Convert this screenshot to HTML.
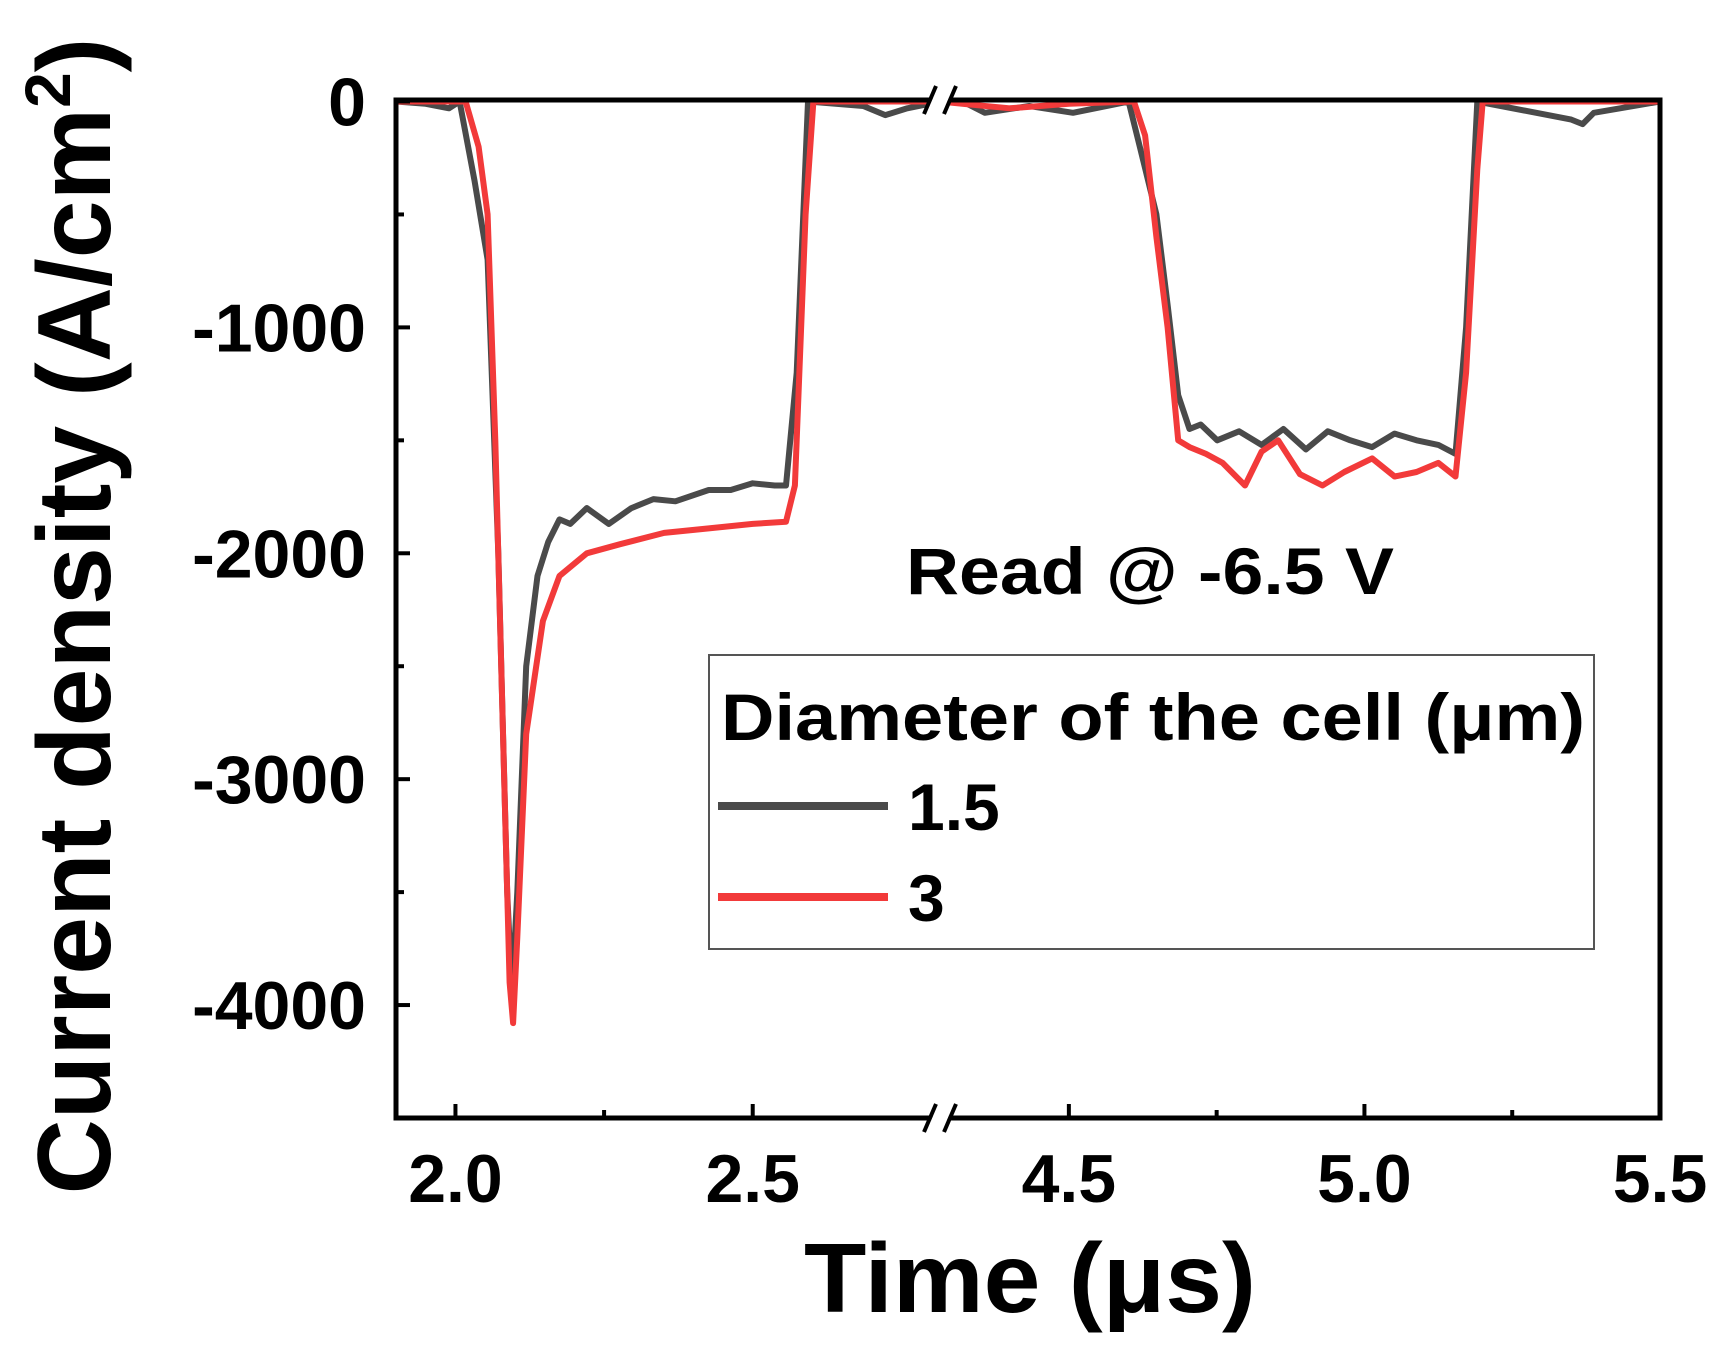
<!DOCTYPE html>
<html><head><meta charset="utf-8"><style>
html,body{margin:0;padding:0;background:#fff;}
svg text{font-family:"Liberation Sans",sans-serif;font-weight:bold;}
</style></head><body>
<svg id="chart" width="1731" height="1364" viewBox="0 0 1731 1364" xmlns="http://www.w3.org/2000/svg">
<g id="plot"></g>
<g id="axes"></g>
<text x="906" y="594" font-size="66" textLength="488" lengthAdjust="spacingAndGlyphs">Read @ -6.5 V</text>
<g>
<rect x="709" y="655" width="885" height="294" fill="#fff" stroke="#555" stroke-width="2"/>
<text x="721" y="740" font-size="66" textLength="864" lengthAdjust="spacingAndGlyphs">Diameter of the cell (μm)</text>
<line x1="718" y1="806" x2="888" y2="806" stroke="#4a4a4a" stroke-width="8"/>
<text x="908" y="830" font-size="66">1.5</text>
<line x1="718" y1="897" x2="888" y2="897" stroke="#f23a3a" stroke-width="8"/>
<text x="908" y="921" font-size="66">3</text>
</g>
<text x="1030" y="1312" font-size="98" text-anchor="middle" textLength="452" lengthAdjust="spacingAndGlyphs">Time (μs)</text>
<text transform="translate(110,616) rotate(-90)" font-size="104" text-anchor="middle">Current density (A/cm<tspan font-size="64" dy="-40">2</tspan><tspan dy="40">)</tspan></text>
</svg>
<script>
const yTicks=[0,-1000,-2000,-3000,-4000];
const xTicksLeft=[2.0,2.5];
const xTicksRight=[4.5,5.0,5.5];
const grayLeftT=[1.9,1.95,1.989,2.007,2.032,2.054,2.072,2.087,2.095,2.104,2.119,2.138,2.156,2.175,2.193,2.221,2.258,2.296,2.333,2.37,2.426,2.463,2.5,2.537,2.556,2.574,2.593,2.686,2.723,2.76,2.816];
const grayLeftV=[0,-10,-30,0,-350,-700,-2000,-3500,-3950,-3500,-2500,-2100,-1950,-1850,-1870,-1800,-1870,-1800,-1760,-1770,-1720,-1720,-1690,-1700,-1700,-1200,0,-20,-60,-30,0];
const redLeftT=[1.9,2.017,2.039,2.054,2.067,2.082,2.091,2.097,2.104,2.119,2.147,2.175,2.221,2.277,2.351,2.426,2.5,2.556,2.571,2.589,2.602,2.816];
const redLeftV=[0,0,-200,-500,-1500,-3000,-3900,-4080,-3700,-2800,-2300,-2100,-2000,-1960,-1910,-1890,-1870,-1860,-1700,-500,0,0];
const grayRightT=[4.282,4.32,4.358,4.433,4.507,4.601,4.62,4.648,4.667,4.685,4.704,4.723,4.751,4.788,4.826,4.863,4.901,4.938,4.976,5.013,5.051,5.088,5.125,5.154,5.172,5.191,5.35,5.369,5.388,5.5];
const grayRightV=[0,0,-50,-20,-50,0,-200,-500,-900,-1300,-1450,-1430,-1500,-1460,-1520,-1450,-1540,-1460,-1500,-1530,-1470,-1500,-1520,-1560,-1000,0,-80,-100,-50,0];
const redRightT=[4.282,4.32,4.4,4.5,4.61,4.629,4.648,4.667,4.685,4.704,4.732,4.76,4.798,4.826,4.854,4.891,4.929,4.966,5.013,5.051,5.088,5.125,5.154,5.172,5.191,5.2,5.5];
const redRightV=[0,-10,-30,-10,0,-150,-600,-1000,-1500,-1530,-1560,-1600,-1700,-1550,-1500,-1650,-1700,-1640,-1580,-1660,-1640,-1600,-1660,-1200,-300,0,0];

const L=396,R=1660,T=100,B=1118,BRK=940;
const yMin=-4500,yMax=0;
const lMin=1.9,lMax=2.815,rMin=4.282,rMax=5.5;
function y(v){return T+1.5+(v-yMax)/(yMin-yMax)*(B-T-1.5);}
function x(t){return t<=3.5? L+(t-lMin)/(lMax-lMin)*(BRK-L) : BRK+(t-rMin)/(rMax-rMin)*(R-BRK);}
const NS="http://www.w3.org/2000/svg";
const plot=document.getElementById('plot'),axes=document.getElementById('axes');
function mk(tag,attrs,parent){const e=document.createElementNS(NS,tag);for(const k in attrs)e.setAttribute(k,attrs[k]);parent.appendChild(e);return e;}
function series(ts,vs,color,name){
  const d=ts.map((t,i)=>(i?'L':'M')+x(t).toFixed(1)+','+y(vs[i]).toFixed(1)).join(' ');
  const p=mk('path',{d:d,fill:'none',stroke:color,'stroke-width':6,'stroke-linejoin':'round'},plot);
  
  
}
series(grayLeftT,grayLeftV,'#4a4a4a','series-1-5-left');
series(grayRightT,grayRightV,'#4a4a4a','series-1-5-right');
series(redLeftT,redLeftV,'#f23a3a','series-3-left');
series(redRightT,redRightV,'#f23a3a','series-3-right');
const fr=mk('rect',{x:L,y:T,width:R-L,height:B-T,fill:'none',stroke:'#000','stroke-width':5},axes);


yTicks.forEach(v=>{
  const tk=mk('line',{x1:L,x2:L+14,y1:y(v),y2:y(v),stroke:'#000','stroke-width':4},axes);
  
  
  const tx=mk('text',{x:366,y:y(v)+24,'font-size':68,'text-anchor':'end'},axes);
  tx.textContent=v;
  
  
});
[-500,-1500,-2500,-3500].forEach(v=>{
  const tk=mk('line',{x1:L,x2:L+8,y1:y(v),y2:y(v),stroke:'#000','stroke-width':4},axes);
  
  
});
xTicksLeft.concat(xTicksRight).forEach(t=>{
  const tk=mk('line',{x1:x(t),x2:x(t),y1:B,y2:B-14,stroke:'#000','stroke-width':4},axes);
  
  
  const tx=mk('text',{x:x(t),y:1202,'font-size':68,'text-anchor':'middle'},axes);
  tx.textContent=t.toFixed(1);
  
  
});
[2.25,4.75,5.25].forEach(t=>{
  const tk=mk('line',{x1:x(t),x2:x(t),y1:B,y2:B-8,stroke:'#000','stroke-width':4},axes);
  
  
});
[T,B].forEach(yy=>{
  const g=mk('g',{},axes);
  
  
  mk('polygon',{points:`${BRK-14},${yy+14} ${BRK-2},${yy-14} ${BRK+14},${yy-14} ${BRK+2},${yy+14}`,fill:'#fff'},g);
  mk('line',{x1:BRK-16,y1:yy+14,x2:BRK-4,y2:yy-14,stroke:'#000','stroke-width':4},g);
  mk('line',{x1:BRK+4,y1:yy+14,x2:BRK+16,y2:yy-14,stroke:'#000','stroke-width':4},g);
});
</script>
</body></html>
